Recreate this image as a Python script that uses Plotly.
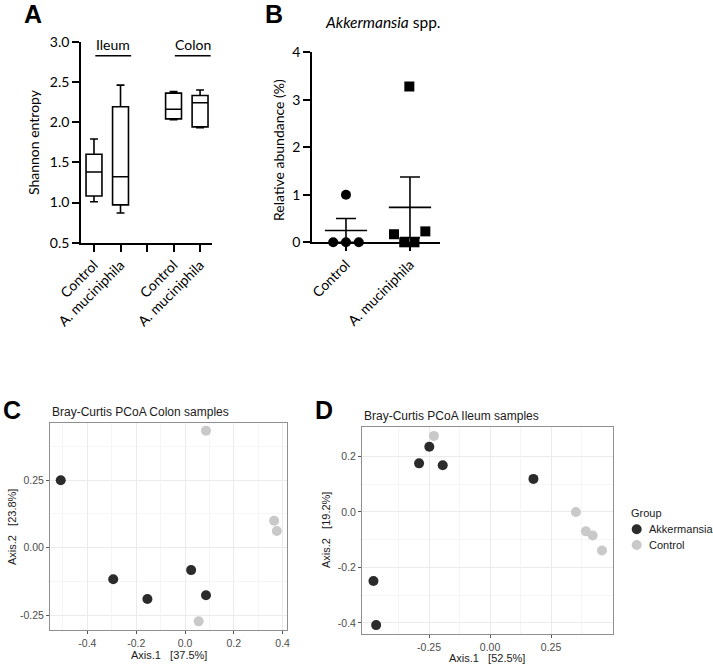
import numpy as np
import plotly.graph_objects as go

W, H = 713, 664


def px(x):
    return x / W


def py(y):
    return 1 - y / H


# ---------------- Panel A : Shannon entropy (box plots) ----------------
A_categories = ["Control", "A. muciniphila", "", "Control", "A. muciniphila"]
A_groups = ["Ileum", "Colon"]
A_lowerfence = [1.01, 0.87, 2.03, 1.93]
A_q1 = [1.08, 0.97, 2.04, 1.94]
A_median = [1.38, 1.32, 2.16, 2.24]
A_q3 = [1.60, 2.19, 2.36, 2.33]
A_upperfence = [1.79, 2.46, 2.38, 2.40]
A_yticks = [0.5, 1.0, 1.5, 2.0, 2.5, 3.0]

# ---------------- Panel B : Akkermansia relative abundance ----------------
B_categories = ["Control", "A. muciniphila"]
B_control = [1.00, 0.00, 0.00, 0.00]
B_akk = [3.28, 0.17, 0.00, 0.00, 0.23]
B_control_jitter = [0.0, -0.2, 0.0, 0.2]
B_akk_jitter = [-0.01, -0.25, -0.09, 0.07, 0.24]
B_yticks = [0, 1, 2, 3, 4]

# ---------------- Panel C : PCoA colon ----------------
C_akk_x = [-0.509, -0.294, -0.154, 0.025, 0.086]
C_akk_y = [0.250, -0.117, -0.190, -0.083, -0.176]
C_ctrl_x = [0.086, 0.365, 0.376, 0.056]
C_ctrl_y = [0.433, 0.100, 0.062, -0.273]
C_xticks = [-0.4, -0.2, 0.0, 0.2, 0.4]
C_xticktext = ["-0.4", "-0.2", "0.0", "0.2", "0.4"]
C_yticks = [-0.25, 0.0, 0.25]
C_yticktext = ["-0.25", "0.00", "0.25"]

# ---------------- Panel D : PCoA ileum ----------------
D_akk_x = [-0.249, -0.291, -0.194, 0.178, -0.478, -0.467]
D_akk_y = [0.235, 0.175, 0.168, 0.119, -0.249, -0.408]
D_ctrl_x = [-0.230, 0.352, 0.393, 0.421, 0.459]
D_ctrl_y = [0.274, 0.000, -0.070, -0.085, -0.139]
D_xticks = [-0.25, 0.0, 0.25]
D_xticktext = ["-0.25", "0.00", "0.25"]
D_yticks = [-0.4, -0.2, 0.0, 0.2]
D_yticktext = ["-0.4", "-0.2", "0.0", "0.2"]

LEGEND_TITLE = "Group"
LEGEND_NAMES = ["Akkermansia", "Control"]

GP_FONT = "Lato, 'Open Sans', sans-serif"
GG_FONT = "'Liberation Sans', Arial, sans-serif"
DARK = "#2b2b2b"
LIGHT = "#c9c9c9"
GROUP_COLORS = {"Akkermansia": DARK, "Control": LIGHT}

fig = go.Figure()

# ---- A traces ----
A_pos = [i for i, c in enumerate(A_categories) if c]
fig.add_trace(go.Box(
    x=A_pos, q1=A_q1, median=A_median, q3=A_q3,
    lowerfence=A_lowerfence, upperfence=A_upperfence,
    width=0.6, whiskerwidth=0.5, boxpoints=False,
    fillcolor="white", line=dict(color="black", width=1.6),
    xaxis="x", yaxis="y", showlegend=False, hoverinfo="skip",
))

# ---- B traces ----
b_sets = [B_control, B_akk]
b_means = [float(np.mean(v)) for v in b_sets]
b_sems = [float(np.std(v, ddof=1) / np.sqrt(len(v))) for v in b_sets]
fig.add_trace(go.Scatter(
    x=[0, 1], y=b_means, mode="markers",
    marker=dict(color="rgba(0,0,0,0)", size=1),
    error_y=dict(type="data", array=b_sems, color="black", thickness=1.6, width=10),
    xaxis="x2", yaxis="y2", showlegend=False, hoverinfo="skip",
))
mx, my = [], []
for i, m in enumerate(b_means):
    mx += [i - 0.33, i + 0.33, None]
    my += [m, m, None]
fig.add_trace(go.Scatter(
    x=mx, y=my, mode="lines", line=dict(color="black", width=1.6),
    xaxis="x2", yaxis="y2", showlegend=False, hoverinfo="skip",
))
fig.add_trace(go.Scatter(
    x=[0 + j for j in B_control_jitter], y=B_control, mode="markers",
    marker=dict(symbol="circle", size=10, color="black"),
    xaxis="x2", yaxis="y2", showlegend=False, cliponaxis=False,
))
fig.add_trace(go.Scatter(
    x=[1 + j for j in B_akk_jitter], y=B_akk, mode="markers",
    marker=dict(symbol="square", size=10, color="black"),
    xaxis="x2", yaxis="y2", showlegend=False, cliponaxis=False,
))

# ---- C traces ----
fig.add_trace(go.Scatter(x=C_ctrl_x, y=C_ctrl_y, mode="markers",
                         marker=dict(size=10, color=LIGHT), name="Control",
                         xaxis="x3", yaxis="y3", showlegend=False))
fig.add_trace(go.Scatter(x=C_akk_x, y=C_akk_y, mode="markers",
                         marker=dict(size=10, color=DARK), name="Akkermansia",
                         xaxis="x3", yaxis="y3", showlegend=False))

# ---- D traces ----
fig.add_trace(go.Scatter(x=D_ctrl_x, y=D_ctrl_y, mode="markers",
                         marker=dict(size=10, color=LIGHT), name="Control",
                         xaxis="x4", yaxis="y4", showlegend=False))
fig.add_trace(go.Scatter(x=D_akk_x, y=D_akk_y, mode="markers",
                         marker=dict(size=10, color=DARK), name="Akkermansia",
                         xaxis="x4", yaxis="y4", showlegend=False))

# ---- axes ----
gp_axis = dict(showline=True, linecolor="black", linewidth=1.6, ticks="outside",
               ticklen=7, tickwidth=1.6, tickcolor="black", showgrid=False,
               zeroline=False, automargin=False,
               tickfont=dict(family=GP_FONT, size=14, color="black"))

gg_axis = dict(showline=True, mirror=True, linecolor="#8f8f8f", linewidth=1,
               ticks="outside", ticklen=3, tickwidth=1, tickcolor="#555555",
               showgrid=True, gridcolor="#ebebeb", gridwidth=1, zeroline=False,
               automargin=False,
               tickfont=dict(family=GG_FONT, size=10.5, color="#4d4d4d"))

minor_grid = dict(showgrid=True, gridcolor="#f5f5f5", gridwidth=0.6, ticks="")

fig.update_layout(
    width=W, height=H, margin=dict(l=0, r=0, t=0, b=0, autoexpand=False),
    paper_bgcolor="white", plot_bgcolor="white", showlegend=False,
    xaxis=dict(gp_axis, domain=[px(81), px(212)], range=[-0.49, 4.45],
               tickvals=list(range(len(A_categories))), ticktext=A_categories,
               tickangle=-45, anchor="y"),
    yaxis=dict(gp_axis, domain=[py(242.7), py(41.7)], range=[0.5, 3.0],
               tickvals=A_yticks, tickformat=".1f", anchor="x"),
    xaxis2=dict(gp_axis, domain=[px(312), px(440)], range=[-0.531, 1.469],
                tickvals=[0, 1], ticktext=B_categories, tickangle=-45, anchor="y2"),
    yaxis2=dict(gp_axis, domain=[py(242.3), py(52.3)], range=[0, 4],
                tickvals=B_yticks, anchor="x2"),
    xaxis3=dict(gg_axis, domain=[px(50), px(287.3)], range=[-0.553, 0.419],
                tickvals=C_xticks, ticktext=C_xticktext, anchor="y3",
                minor=dict(minor_grid, tickvals=[-0.5, -0.3, -0.1, 0.1, 0.3])),
    yaxis3=dict(gg_axis, domain=[py(630), py(423)], range=[-0.305, 0.462],
                tickvals=C_yticks, ticktext=C_yticktext, anchor="x3",
                minor=dict(minor_grid, tickvals=[-0.125, 0.125, 0.375])),
    xaxis4=dict(gg_axis, domain=[px(362), px(612.7)], range=[-0.525, 0.503],
                tickvals=D_xticks, ticktext=D_xticktext, anchor="y4",
                minor=dict(minor_grid, tickvals=[-0.375, -0.125, 0.125, 0.375])),
    yaxis4=dict(gg_axis, domain=[py(634), py(427.3)], range=[-0.44, 0.305],
                tickvals=D_yticks, ticktext=D_yticktext, anchor="x4",
                minor=dict(minor_grid, tickvals=[-0.3, -0.1, 0.1])),
)

# ---- annotations / shapes ----
ann = []
shapes = []


def panel_label(t, x, y):
    ann.append(dict(text=f"<b>{t}</b>", x=px(x), y=py(y), xref="paper", yref="paper",
                    showarrow=False, xanchor="center", yanchor="middle",
                    font=dict(family=GG_FONT, size=25, color="black")))


panel_label("A", 33, 14)
panel_label("B", 274, 14)
panel_label("C", 12, 410)
panel_label("D", 324, 410)

# Ileum / Colon group headers in panel A
group_slots = [A_pos[:2], A_pos[2:]]
for g, slots in zip(A_groups, group_slots):
    x0, x1 = slots[0] + 0.05, slots[-1] + 0.4
    shapes.append(dict(type="line", xref="x", yref="y", x0=x0, x1=x1, y0=2.826, y1=2.826,
                       line=dict(color="black", width=1.6)))
    ann.append(dict(text=g, x=(x0 + x1) / 2, y=2.965, xref="x", yref="y", showarrow=False,
                    xanchor="center", yanchor="middle",
                    font=dict(family=GP_FONT, size=14, color="black")))

# axis titles
ann.append(dict(text="Shannon entropy", x=px(33), y=py(142), xref="paper", yref="paper",
                textangle=-90, showarrow=False, xanchor="center", yanchor="middle",
                font=dict(family=GP_FONT, size=14, color="black")))
ann.append(dict(text="Relative abundance (%)", x=px(278), y=py(150), xref="paper", yref="paper",
                textangle=-90, showarrow=False, xanchor="center", yanchor="middle",
                font=dict(family=GP_FONT, size=14, color="black")))
ann.append(dict(text="<i>Akkermansia</i> spp.", x=px(383), y=py(22), xref="paper", yref="paper",
                showarrow=False, xanchor="center", yanchor="middle",
                font=dict(family=GP_FONT, size=15.5, color="black")))

NB = "\u00a0"
ann.append(dict(text="Bray-Curtis PCoA Colon samples", x=px(50), y=py(412), xref="paper",
                yref="paper", showarrow=False, xanchor="left", yanchor="middle",
                font=dict(family=GG_FONT, size=12, color="#1a1a1a")))
ann.append(dict(text="Bray-Curtis PCoA Ileum samples", x=px(362), y=py(415.5), xref="paper",
                yref="paper", showarrow=False, xanchor="left", yanchor="middle",
                font=dict(family=GG_FONT, size=12, color="#1a1a1a")))
ann.append(dict(text=f"Axis.1{NB*3}[37.5%]", x=px(168.7), y=py(655), xref="paper",
                yref="paper", showarrow=False, xanchor="center", yanchor="middle",
                font=dict(family=GG_FONT, size=11, color="#1a1a1a")))
ann.append(dict(text=f"Axis.2{NB*3}[23.8%]", x=px(12), y=py(527), xref="paper",
                yref="paper", showarrow=False, xanchor="center", yanchor="middle",
                textangle=-90, font=dict(family=GG_FONT, size=11, color="#1a1a1a")))
ann.append(dict(text=f"Axis.1{NB*3}[52.5%]", x=px(487), y=py(658), xref="paper",
                yref="paper", showarrow=False, xanchor="center", yanchor="middle",
                font=dict(family=GG_FONT, size=11, color="#1a1a1a")))
ann.append(dict(text=f"Axis.2{NB*3}[19.2%]", x=px(326), y=py(530), xref="paper",
                yref="paper", showarrow=False, xanchor="center", yanchor="middle",
                textangle=-90, font=dict(family=GG_FONT, size=11, color="#1a1a1a")))

# manual legend (Group)
ann.append(dict(text=LEGEND_TITLE, x=px(629), y=py(513), xref="paper", yref="paper",
                showarrow=False, xanchor="left", yanchor="middle",
                font=dict(family=GG_FONT, size=11, color="#1a1a1a")))
for k, name in enumerate(LEGEND_NAMES):
    yy = py(529.3 + 15.7 * k)
    shapes.append(dict(type="circle", xref="paper", yref="paper",
                       xsizemode="pixel", ysizemode="pixel",
                       xanchor=px(636.7), yanchor=yy, x0=-5, x1=5, y0=-5, y1=5,
                       fillcolor=GROUP_COLORS[name], line=dict(width=0)))
    ann.append(dict(text=name, x=px(647), y=yy, xref="paper", yref="paper",
                    showarrow=False, xanchor="left", yanchor="middle",
                    font=dict(family=GG_FONT, size=11, color="#1a1a1a")))

fig.update_layout(annotations=ann, shapes=shapes)

fig.write_html(
    "out.html",
    config={"displayModeBar": False},
    post_script="document.body.style.margin='0';document.body.style.padding='0';"
                "document.body.style.overflow='hidden';",
)
